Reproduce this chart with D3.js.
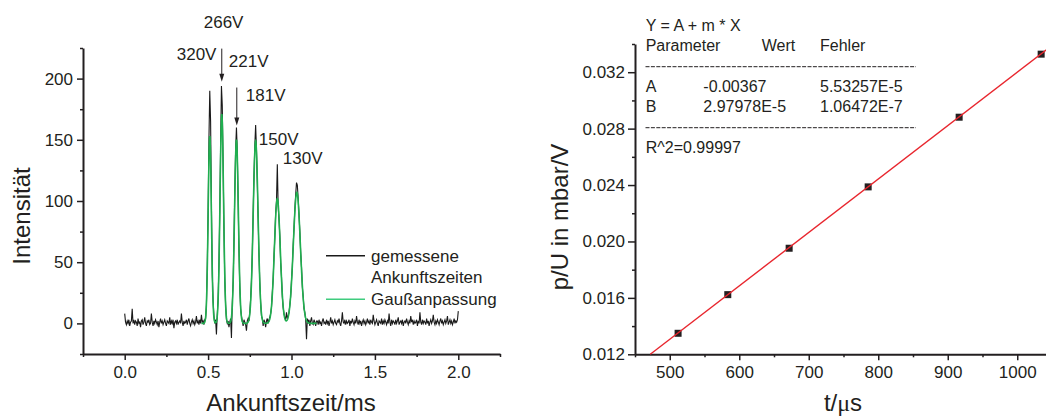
<!DOCTYPE html>
<html>
<head>
<meta charset="utf-8">
<script src="https://cdn.jsdelivr.net/npm/d3@7"></script>
<style>
body { margin: 0; background: #fff; }
svg text { font-family: "Liberation Sans", Arial, sans-serif; fill: #231f20; }
</style>
</head>
<body>
<svg id="chart" width="1046" height="416"></svg>
<script>
// measured arrival times, sampled every 5 us from 0 to 2 ms
var measuredStart = 0.0, measuredStep = 0.005;
var measuredIntensity = [
    // 0.000 - 0.465
    8, 1, -1, 2, 0, 3, -2, 1, 2, 12,
    0, 3, -1, 2, 1, -2, 4, 0, 1, -3,
    2, 3, -1, 1, 5, 0, -2, 2, 1, 3,
    -1, 0, 8, 1, -2, 2, 0, 3, 1, -1,
    2, -3, 1, 4, 0, 2, -1, 1, 3, 0,
    -2, 2, 1, 0, 5, -1, 2, 0, 3, -4,
    1, 2, 0, 3, -1, 1, 2, 0, 8, 1,
    -2, 2, 0, 1, 3, -1, 2, 4, 0, -2,
    1, 3, 0, 2, -1, 1, 6, 0, 2, -1,
    3, 0, 7, 1,
    // 0.470 - 1.150 (peaks)
    2, -1, 3, 4, 15, 47, 90, 150, 190, 165,
    95, 40, 18, 6, 0, 3, -9, 7, 20, 48,
    92, 145, 194, 178, 130, 78, 36, 15, 3, 0,
    2, -3, 1, 4, -12, 16, 34, 66, 108, 142,
    160, 140, 100, 60, 30, 12, 6, 2, -2, 3,
    1, -1, -6, 2, 4, 2, 9, 20, 35, 57,
    90, 120, 145, 162, 142, 115, 85, 56, 33, 17,
    6, 4, -2, 3, 1, -3, 2, 4, 0, 3,
    5, 8, 13, 25, 36, 55, 70, 90, 100, 130,
    96, 85, 72, 50, 38, 22, 13, 8, 5, 3,
    9, 4, 6, 9, 15, 22, 35, 46, 64, 78,
    93, 105, 115, 113, 102, 89, 75, 58, 46, 30,
    22, 12, 9, 3, -13, 4, 1, 3, -2, 2,
    5, 0, -1, 3, 1, -2, 2,
    // 1.155 - 2.000
    2, -1, 3, 0, 1, -2, 2, 4, 0, 1,
    -1, 3, 0, 2, -2, 1, 5, 0, 2, -1,
    1, 3, 0, -1, 2, 1, 4, 0, -2, 2,
    9, 1, 0, 3, -1, 2, 0, 1, 3, -2,
    2, 0, 4, 1, -1, 2, 0, 6, 1, -1,
    3, 0, 2, -2, 1, 3, 0, 2, -1, 1,
    4, 0, 2, -1, 3, 1, 0, 7, 2, -1,
    1, 3, 0, -2, 2, 1, 0, 4, -1, 2,
    0, 3, 1, -1, 2, 0, 8, 1, -2, 3,
    0, 2, 1, -1, 3, 0, 2, 5, -1, 1,
    2, 0, 3, -2, 1, 2, 0, 4, 1, -1,
    2, 0, 6, 1, 3, -1, 2, 0, 1, 3,
    -2, 2, 0, 9, 1, -1, 3, 0, 2, 1,
    -1, 4, 0, 2, -2, 1, 3, 0, 2, 7,
    1, -1, 2, 0, 3, 1, -1, 2, 4, 0,
    2, -1, 1, 3, 0, 2, 6, -1, 1, 3,
    0, 2, -1, 1, 4, 0, 2, 1, 3, 10
];

// gauss fit parameters (one per peak)
var fitCenters = [0.510, 0.582, 0.670, 0.785, 0.915, 1.032];
var fitHeights = [153, 171, 150, 149, 102, 107];
var fitSigmas = [0.0095, 0.0105, 0.0115, 0.0145, 0.0175, 0.021];
var fitRange = [0.46, 1.15];

var peakLabels = ["320V", "266V", "221V", "181V", "150V", "130V"];
var labelX = [0.312, 0.474, 0.624, 0.726, 0.804, 0.948];
var labelY = [215.5, 241.6, 209.8, 182, 146, 130.6];
var arrowX = [0.582, 0.672];
var arrowTop = [224.5, 192.7];
var arrowTip = [197.5, 161.6];

var leftXTicks = [0, 0.5, 1, 1.5, 2];
var leftXMinor = [-0.25, 0.25, 0.75, 1.25, 1.75, 2.25];
var leftYTicks = [0, 50, 100, 150, 200];
var leftYMinor = [-25, 25, 75, 125, 175, 225];

// p/U against flight time
var flightTimes = [512, 583.5, 671.8, 785.5, 916.4, 1034.4];
var pressureRatio = [0.01349, 0.01623, 0.01952, 0.02387, 0.02881, 0.03328];
var lineT = [472, 1050];
var lineP = [0.0120, 0.0339];

var rightXTicks = [500, 600, 700, 800, 900, 1000];
var rightXMinor = [450, 550, 650, 750, 850, 950, 1050];
var rightYTicks = [0.012, 0.016, 0.020, 0.024, 0.028, 0.032];
var rightYMinor = [0.014, 0.018, 0.022, 0.026, 0.030, 0.034];

var fitTable = [
    ["Y = A + m * X", "", ""],
    ["Parameter", "Wert", "Fehler"],
    null,
    ["A", "-0.00367", "5.53257E-5"],
    ["B", "2.97978E-5", "1.06472E-7"],
    null,
    ["R^2=0.99997", "", ""]
];

var ink = "#231f20";
var svg = d3.select("#chart");

function drawAxes(g, axis, minor) {
    var major = g.append("g").call(axis);
    major.select(".domain").attr("stroke", ink).attr("stroke-width", 2);
    major.selectAll(".tick line").attr("stroke", ink).attr("stroke-width", 1.5);
    major.selectAll(".tick text").attr("font-size", 17);
    var m = g.append("g").call(minor);
    m.select(".domain").remove();
    m.selectAll(".tick line").attr("stroke", ink).attr("stroke-width", 1.5);
}

// ---------- left chart ----------
var lx = d3.scaleLinear().domain([-0.25, 2.25]).range([83, 500]);
var ly = d3.scaleLinear().domain([-25, 225]).range([354, 48]);
var left = svg.append("g");

var measured = measuredIntensity.map(function(v, i) {
    return [measuredStart + i * measuredStep, v];
});

var fitPoints = d3.range(fitRange[0], fitRange[1] + 0.0005, 0.001).map(function(t) {
    var s = 0;
    fitCenters.forEach(function(c, k) {
        var d = t - c;
        s += fitHeights[k] * Math.exp(-d * d / (2 * fitSigmas[k] * fitSigmas[k]));
    });
    return [t, s];
});

var line = d3.line().x(function(d) { return lx(d[0]); }).y(function(d) { return ly(d[1]); });

left.append("path")
    .datum(measured)
    .attr("d", line)
    .attr("fill", "none")
    .attr("stroke", "#1a1a1a")
    .attr("stroke-width", 1.1);

left.append("path")
    .datum(fitPoints)
    .attr("d", line)
    .attr("fill", "none")
    .attr("stroke", "#1faf4f")
    .attr("stroke-width", 1.6);

drawAxes(left.append("g").attr("transform", "translate(0,354)"),
    d3.axisBottom(lx).tickValues(leftXTicks).tickSize(6).tickSizeOuter(0).tickPadding(6).tickFormat(d3.format(".1f")),
    d3.axisBottom(lx).tickValues(leftXMinor).tickSize(3).tickFormat(""));
drawAxes(left.append("g").attr("transform", "translate(83,0)"),
    d3.axisLeft(ly).tickValues(leftYTicks).tickSize(6).tickSizeOuter(0).tickPadding(4),
    d3.axisLeft(ly).tickValues(leftYMinor).tickSize(3).tickFormat(""));

// peak labels and arrows
left.selectAll(".peak-label")
    .data(peakLabels)
    .enter().append("text")
    .attr("class", "peak-label")
    .attr("x", function(d, i) { return lx(labelX[i]); })
    .attr("y", function(d, i) { return ly(labelY[i]); })
    .attr("font-size", 17)
    .text(function(d) { return d; });

arrowX.forEach(function(ax, i) {
    var x = lx(ax), y0 = ly(arrowTop[i]), y1 = ly(arrowTip[i]);
    left.append("line")
        .attr("x1", x).attr("x2", x)
        .attr("y1", y0).attr("y2", y1 - 7)
        .attr("stroke", ink).attr("stroke-width", 1);
    left.append("path")
        .attr("d", "M" + (x - 2.5) + "," + (y1 - 8) + "L" + (x + 2.5) + "," + (y1 - 8) + "L" + x + "," + y1 + "Z")
        .attr("fill", ink);
});

// legend
var legend = left.append("g");
legend.append("line").attr("x1", 326).attr("x2", 365).attr("y1", 255.7).attr("y2", 255.7)
    .attr("stroke", "#1a1a1a").attr("stroke-width", 1.5);
legend.append("text").attr("x", 371).attr("y", 261.5).attr("font-size", 17).text("gemessene");
legend.append("text").attr("x", 371).attr("y", 283).attr("font-size", 17).text("Ankunftszeiten");
legend.append("line").attr("x1", 326).attr("x2", 365).attr("y1", 299.3).attr("y2", 299.3)
    .attr("stroke", "#3fcc7e").attr("stroke-width", 1.5);
legend.append("text").attr("x", 371).attr("y", 305).attr("font-size", 17).text("Gaußanpassung");

left.append("text")
    .attr("transform", "translate(30,216) rotate(-90)")
    .attr("text-anchor", "middle")
    .attr("font-size", 24)
    .text("Intensität");
left.append("text")
    .attr("x", 291).attr("y", 411)
    .attr("text-anchor", "middle")
    .attr("font-size", 24)
    .text("Ankunftszeit/ms");

// ---------- right chart ----------
var rx = d3.scaleLinear().domain([450, 1050]).range([635, 1052]);
var ry = d3.scaleLinear().domain([0.012, 0.034]).range([354.3, 44]);
var right = svg.append("g");

drawAxes(right.append("g").attr("transform", "translate(0,354.3)"),
    d3.axisBottom(rx).tickValues(rightXTicks).tickSize(6).tickSizeOuter(0).tickPadding(6).tickFormat(d3.format("d")),
    d3.axisBottom(rx).tickValues(rightXMinor).tickSize(3).tickFormat(""));
drawAxes(right.append("g").attr("transform", "translate(635,0)"),
    d3.axisLeft(ry).tickValues(rightYTicks).tickSize(7).tickSizeOuter(0).tickPadding(3).tickFormat(d3.format(".3f")),
    d3.axisLeft(ry).tickValues(rightYMinor).tickSize(3).tickFormat(""));

right.selectAll(".pt")
    .data(flightTimes)
    .enter().append("rect")
    .attr("class", "pt")
    .attr("x", function(d) { return rx(d) - 3.5; })
    .attr("y", function(d, i) { return ry(pressureRatio[i]) - 3.5; })
    .attr("width", 7).attr("height", 7)
    .attr("fill", ink);

right.append("path")
    .datum(lineT.map(function(t, i) { return [t, lineP[i]]; }))
    .attr("d", d3.line().x(function(d) { return rx(d[0]); }).y(function(d) { return ry(d[1]); }))
    .attr("stroke", "#e8262e")
    .attr("stroke-width", 1.4)
    .attr("fill", "none");

// fit result table
var colX = [645.7, 703.3, 820];
var headX = [645.7, 761.7, 820];
var rowBase = [31, 50.7, 66.7, 91.7, 111.7, 127.7, 152.7];
fitTable.forEach(function(row, r) {
    var y = rowBase[r];
    if (row === null) {
        right.append("line")
            .attr("x1", 645.5).attr("x2", 916)
            .attr("y1", y).attr("y2", y)
            .attr("stroke", ink).attr("stroke-width", 1)
            .attr("stroke-dasharray", "4,1.4");
        return;
    }
    row.forEach(function(cell, c) {
        if (!cell) return;
        var x = (r === 1 ? headX : colX)[c];
        right.append("text").attr("x", x).attr("y", y).attr("font-size", 16).text(cell);
    });
});

right.append("text")
    .attr("transform", "translate(568,217) rotate(-90)")
    .attr("text-anchor", "middle")
    .attr("font-size", 24)
    .text("p/U in mbar/V");
var tt = right.append("text")
    .attr("x", 843).attr("y", 411)
    .attr("text-anchor", "middle")
    .attr("font-size", 24);
tt.append("tspan").text("t/");
tt.append("tspan").style("font-family", "'Liberation Serif', serif").text("μ");
tt.append("tspan").text("s");
</script>
</body>
</html>
